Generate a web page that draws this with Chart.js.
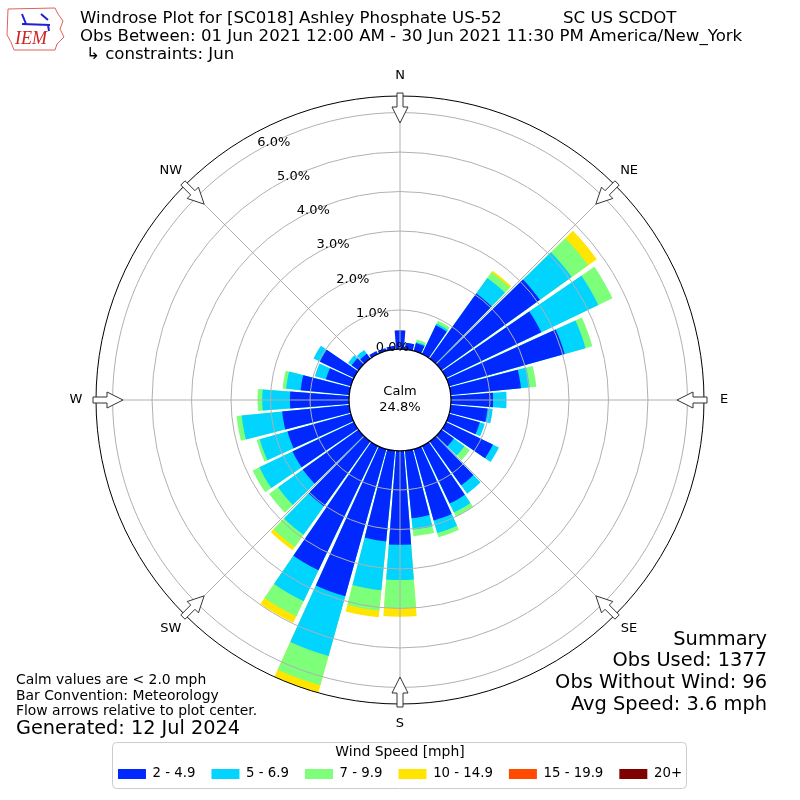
<!DOCTYPE html>
<html>
<head>
<meta charset="utf-8">
<script src="https://cdn.jsdelivr.net/npm/chart.js@4.4.1/dist/chart.umd.min.js"></script>
<style>
  html, body { margin: 0; padding: 0; background: #fff; }
  canvas { display: block; }
</style>
</head>
<body>
<canvas id="rose" width="800" height="800"></canvas>
<script>
// direction bins, degrees the wind blows from
var directions = [0, 10, 20, 30, 40, 50, 60, 70, 80, 90, 100, 110, 120, 130, 140, 150, 160, 170,
                  180, 190, 200, 210, 220, 230, 240, 250, 260, 270, 280, 290, 300, 310, 320, 330, 340, 350];
var speedLabels = ['2 - 4.9', '5 - 6.9', '7 - 9.9', '10 - 14.9', '15 - 19.9', '20+'];
var speedColors = ['#0028ff', '#00d4ff', '#7dff7a', '#ffe500', '#ff4a00', '#7f0000'];

// percent of observations per direction, one list per speed bin
var spd2to5 = [0.49, 0.18, 0.22, 0.82, 2.04, 3.08, 2.69, 3.05, 1.80, 1.08, 0.95, 0.82, 1.33, 0.40, 1.38, 1.63, 1.89, 1.73,
               2.39, 2.32, 3.88, 3.50, 2.03, 1.75, 1.74, 1.68, 1.72, 1.51, 1.25, 0.67, 0.97, 0.23, 0.16, 0.10, 0.08, 0.10];
var spd5to7 = [0, 0, 0.03, 0.05, 0.48, 0.99, 1.60, 0.55, 0.22, 0.34, 0.13, 0.13, 0.17, 0.33, 0.26, 0.25, 0.33, 0.29,
               0.89, 1.24, 1.57, 0.87, 0.89, 0.77, 0.93, 0.73, 1.03, 0.70, 0.37, 0.29, 0.18, 0.11, 0.12, 0, 0, 0];
var spd7to10 = [0, 0, 0.06, 0.08, 0.18, 0.51, 0.40, 0.18, 0.17, 0, 0, 0, 0, 0.17, 0, 0.12, 0.11, 0.17,
                0.71, 0.52, 0.77, 0.43, 0.38, 0.28, 0.19, 0.08, 0.13, 0.12, 0.09, 0, 0, 0, 0, 0, 0, 0];
var spd10to15 = [0, 0, 0, 0, 0.05, 0.27, 0, 0, 0, 0, 0, 0, 0, 0, 0, 0, 0, 0,
                 0.22, 0.17, 0.20, 0.18, 0.10, 0, 0, 0, 0, 0, 0, 0, 0, 0, 0, 0, 0, 0];
var spd15to20 = [0, 0, 0, 0, 0, 0, 0, 0, 0, 0, 0, 0, 0, 0, 0, 0, 0, 0,
                 0, 0, 0, 0, 0, 0, 0, 0, 0, 0, 0, 0, 0, 0, 0, 0, 0, 0];
var spd20up = [0, 0, 0, 0, 0, 0, 0, 0, 0, 0, 0, 0, 0, 0, 0, 0, 0, 0,
               0, 0, 0, 0, 0, 0, 0, 0, 0, 0, 0, 0, 0, 0, 0, 0, 0, 0];

var ringTicks = [0, 1, 2, 3, 4, 5, 6];
var compass = ['N', 'NE', 'E', 'SE', 'S', 'SW', 'W', 'NW'];
var calmPct = 24.8;
var obsUsed = 1377, obsNoWind = 96, avgSpeed = 3.6;

var barDeg = 8.8, gapDeg = 1.2;   // each 10 degree sector: bar + white gap
var calmHole = 0.166;             // share of the radius taken by the calm circle

// stacked totals, one entry per bar plus one empty entry per gap
var series = [spd2to5, spd5to7, spd7to10, spd10to15, spd15to20, spd20up];
var running = directions.map(function () { return 0; });
var datasets = series.map(function (s, k) {
  var data = [];
  directions.forEach(function (d, i) {
    running[i] += s[i];
    data.push(s[i] > 0 ? +running[i].toFixed(3) : 0, 0);
  });
  return {
    label: speedLabels[k],
    data: data,
    backgroundColor: speedColors[k],
    borderWidth: 0,
    angle: function (c) { return c.dataIndex % 2 ? gapDeg : barDeg; }
  };
});
var rMax = Math.max.apply(null, running);
var rMin = -rMax * calmHole / (1 - calmHole);

var labels = [];
directions.forEach(function (d) { labels.push(d + '°', ''); });

var FONT = '"DejaVu Sans", sans-serif';
Chart.defaults.font.family = FONT;
Chart.defaults.color = '#000';

var roseDecor = {
  id: 'roseDecor',
  afterDraw: function (chart) {
    var ctx = chart.ctx, sc = chart.scales.r;
    var cx = sc.xCenter, cy = sc.yCenter, R = sc.drawingArea;
    var r0 = sc.getDistanceFromCenterForValue(0);
    ctx.save();

    // spokes
    ctx.strokeStyle = '#b0b0b0';
    ctx.lineWidth = 1;
    compass.forEach(function (name, k) {
      var a = k * Math.PI / 4, s = Math.sin(a), c = Math.cos(a);
      ctx.beginPath();
      ctx.moveTo(cx + r0 * s, cy - r0 * c);
      ctx.lineTo(cx + R * s, cy - R * c);
      ctx.stroke();
    });

    // calm circle
    ctx.beginPath();
    ctx.arc(cx, cy, r0 + 0.5, 0, 2 * Math.PI);
    ctx.fillStyle = '#fff';
    ctx.fill();
    ctx.strokeStyle = '#000';
    ctx.lineWidth = 1.2;
    ctx.stroke();

    ctx.fillStyle = '#000';
    ctx.font = '13px ' + FONT;
    ctx.textAlign = 'center';
    ctx.textBaseline = 'middle';
    ctx.fillText('Calm', cx, cy - 8);
    ctx.fillText(calmPct.toFixed(1) + '%', cx, cy + 8);

    // flow arrows and compass names
    compass.forEach(function (name, k) {
      var a = k * Math.PI / 4, s = Math.sin(a), c = Math.cos(a);
      var pts = [[R + 3, -3], [R - 11, -3], [R - 11, -8], [R - 27, 0], [R - 11, 8], [R - 11, 3], [R + 3, 3]];
      ctx.beginPath();
      pts.forEach(function (p, j) {
        var x = cx + p[0] * s + p[1] * c, y = cy - p[0] * c + p[1] * s;
        if (j === 0) ctx.moveTo(x, y); else ctx.lineTo(x, y);
      });
      ctx.closePath();
      ctx.fillStyle = '#fff';
      ctx.fill();
      ctx.strokeStyle = '#333';
      ctx.lineWidth = 1;
      ctx.stroke();
      ctx.fillStyle = '#000';
      ctx.fillText(name, cx + (R + 20) * s, cy - (R + 20) * c);
    });

    // ring labels along the 30 deg NNW ray
    ctx.textAlign = 'left';
    ringTicks.forEach(function (v) {
      var d = sc.getDistanceFromCenterForValue(v);
      ctx.fillText(v.toFixed(1) + '%', cx - d * 0.5 + 1, cy - d * 0.866 - 8.7);
    });

    // header
    ctx.font = '16.6px ' + FONT;
    ctx.fillText('Windrose Plot for [SC018] Ashley Phosphate US-52', 80, 19);
    ctx.fillText('SC US SCDOT', 563, 19);
    ctx.fillText('Obs Between: 01 Jun 2021 12:00 AM - 30 Jun 2021 11:30 PM America/New_York', 80, 37);
    ctx.fillText('\u21b3 constraints: Jun', 86, 55);

    // logo (rough)
    ctx.strokeStyle = '#e06060';
    ctx.lineWidth = 1;
    ctx.beginPath();
    ctx.moveTo(8, 9); ctx.lineTo(55, 8); ctx.lineTo(58, 14); ctx.lineTo(63, 21); ctx.lineTo(60, 29);
    ctx.lineTo(64, 37); ctx.lineTo(57, 44); ctx.lineTo(55, 50); ctx.lineTo(14, 50); ctx.lineTo(11, 42);
    ctx.lineTo(7, 35); ctx.closePath();
    ctx.stroke();
    ctx.strokeStyle = '#2020d0';
    ctx.lineWidth = 2;
    ctx.beginPath();
    ctx.moveTo(22, 24); ctx.lineTo(50, 25);
    ctx.moveTo(22, 14); ctx.lineTo(26, 24);
    ctx.moveTo(41, 14); ctx.lineTo(48, 20);
    ctx.moveTo(48, 25); ctx.lineTo(49, 31);
    ctx.stroke();
    ctx.fillStyle = '#d02020';
    ctx.font = 'italic 18px "Liberation Serif", serif';
    ctx.fillText('IEM', 15, 39);

    // notes
    ctx.fillStyle = '#000';
    ctx.font = '13.9px ' + FONT;
    ctx.fillText('Calm values are < 2.0 mph', 16, 680.5);
    ctx.fillText('Bar Convention: Meteorology', 16, 696);
    ctx.fillText('Flow arrows relative to plot center.', 16, 711.5);
    ctx.font = '19.3px ' + FONT;
    ctx.fillText('Generated: 12 Jul 2024', 16, 729);

    // summary
    ctx.textAlign = 'right';
    ctx.font = '19.4px ' + FONT;
    ctx.fillText('Summary', 767, 640);
    ctx.fillText('Obs Used: ' + obsUsed, 767, 661);
    ctx.fillText('Obs Without Wind: ' + obsNoWind, 767, 683);
    ctx.fillText('Avg Speed: ' + avgSpeed.toFixed(1) + ' mph', 767, 705);

    // legend frame
    var lg = chart.legend, hb = lg.legendHitBoxes;
    if (hb && hb.length) {
      var last = hb[hb.length - 1];
      var x0 = hb[0].left - 6, x1 = last.left + last.width + 4;
      var y0 = 742, y1 = 788;
      ctx.strokeStyle = '#cccccc';
      ctx.lineWidth = 1;
      ctx.beginPath();
      ctx.roundRect(Math.round(x0) + 0.5, y0 + 0.5, Math.round(x1 - x0), y1 - y0, 4);
      ctx.stroke();
    }
    ctx.restore();
  }
};

new Chart(document.getElementById('rose'), {
  type: 'polarArea',
  data: { labels: labels, datasets: datasets },
  options: {
    responsive: false,
    animation: false,
    events: [],
    layout: { padding: { top: 96, left: 96, right: 96, bottom: 9.35 } },
    scales: {
      r: {
        min: rMin,
        max: rMax,
        startAngle: -barDeg / 2,
        ticks: { display: false, stepSize: 1 },
        angleLines: { display: false },
        pointLabels: { display: false },
        grid: {
          z: 1,
          circular: true,
          lineWidth: 1,
          color: function (c) {
            var v = c.tick ? c.tick.value : 0;
            if (Math.abs(v - rMax) < 1e-6) return '#000';
            return v > 0 ? '#b0b0b0' : 'rgba(0,0,0,0)';
          }
        }
      }
    },
    plugins: {
      tooltip: { enabled: false },
      legend: {
        display: true,
        position: 'bottom',
        title: {
          display: true,
          text: 'Wind Speed [mph]',
          font: { size: 13.9 },
          padding: { top: 41.05, bottom: -10.38 }
        },
        labels: {
          boxWidth: 28,
          boxHeight: 10,
          padding: 16,
          font: { size: 13.3 },
          generateLabels: function (chart) {
            return chart.data.datasets.map(function (ds, i) {
              return { text: ds.label, fillStyle: ds.backgroundColor, strokeStyle: ds.backgroundColor,
                       lineWidth: 0, hidden: false, datasetIndex: i };
            });
          }
        }
      }
    }
  },
  plugins: [roseDecor]
});
</script>
</body>
</html>
